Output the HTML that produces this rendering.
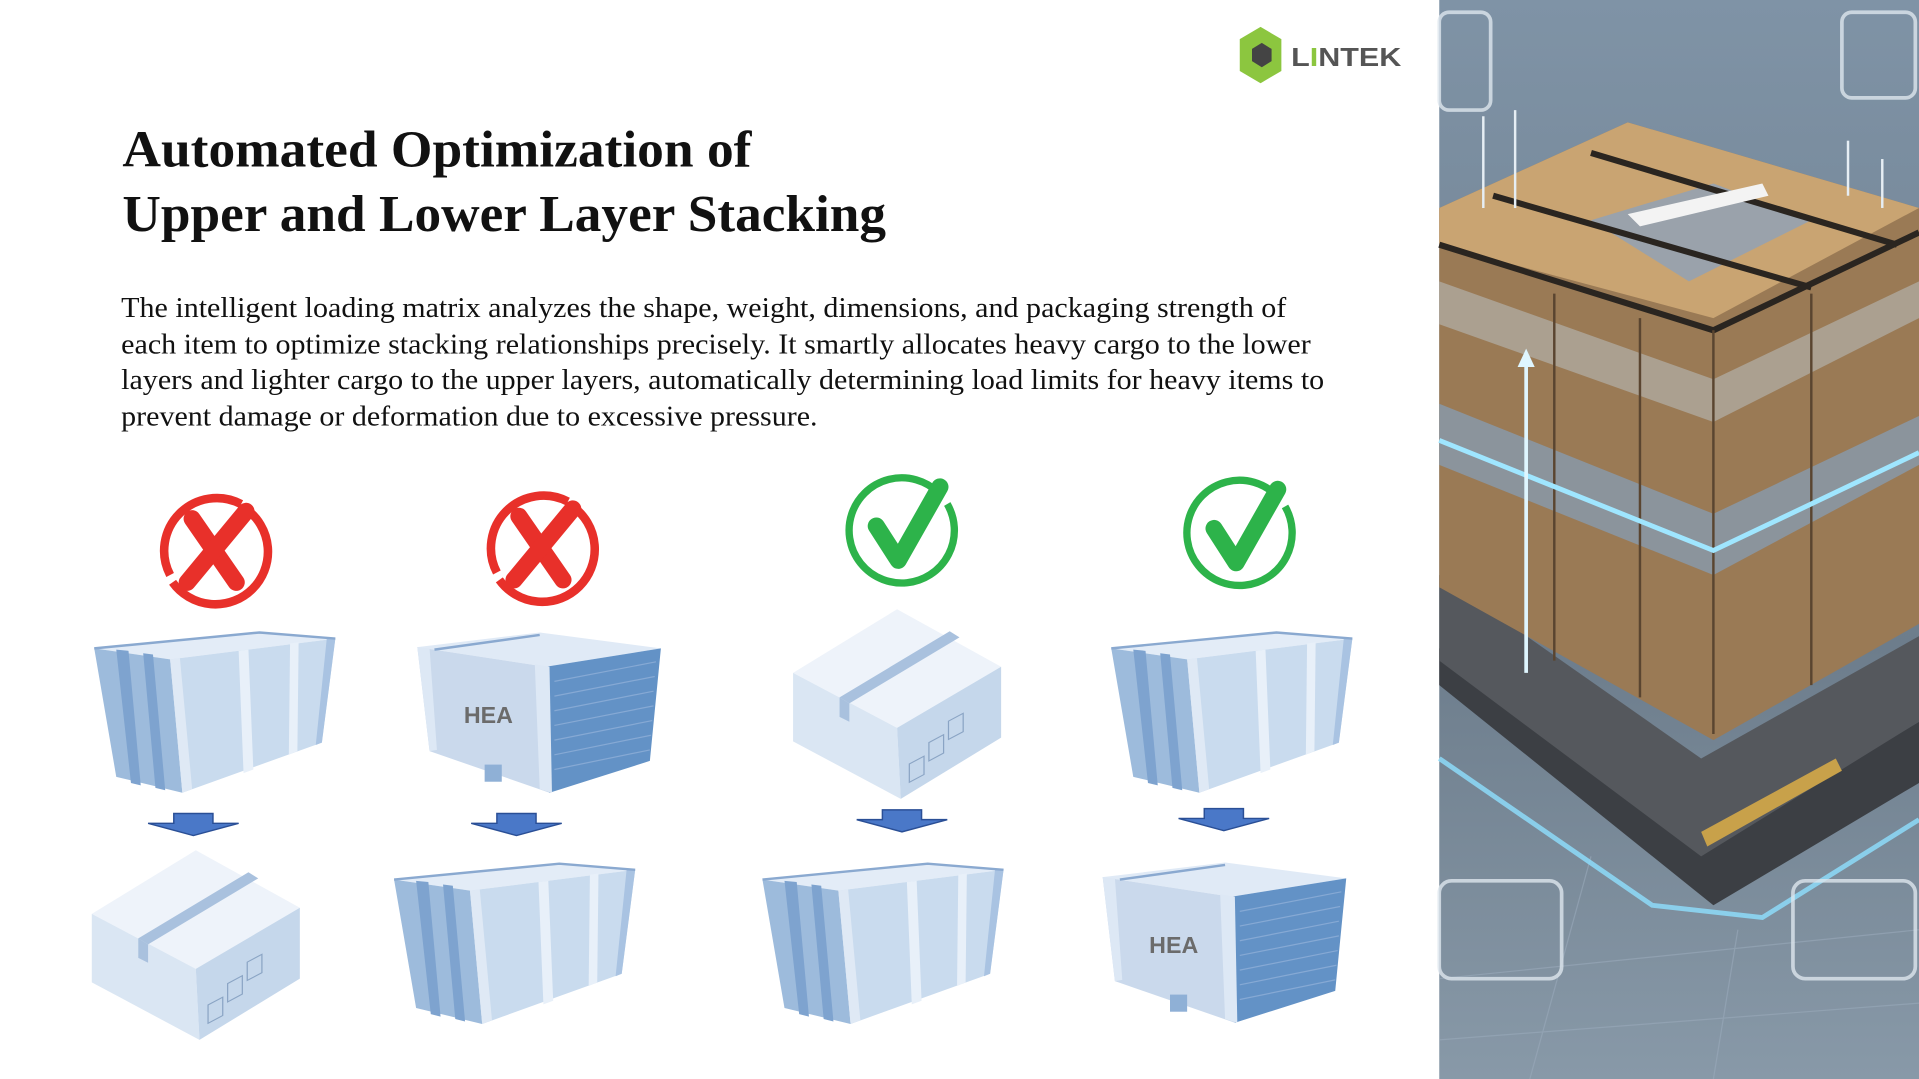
<!DOCTYPE html>
<html><head><meta charset="utf-8"><style>
html,body{margin:0;padding:0;background:#fff;}
svg{display:block}
</style></head><body>
<svg width="1919" height="1079" viewBox="0 0 1568 882" preserveAspectRatio="none" xmlns="http://www.w3.org/2000/svg">
<defs>
<g id="long">
  <polygon points="0,13 135,0 197,5 62,22" fill="#e3ecf7"/>
  <polygon points="62,22 197,5 186,90 72,131" fill="#c9dbee"/>
  <polygon points="0,13 62,22 72,131 18,118" fill="#9dbbdc"/>
  <polygon points="18,14 28,15 38,125 30,123" fill="#7ea3cf"/>
  <polygon points="40,17 48,18 58,129 50,127" fill="#7ea3cf"/>
  <polygon points="62,22 70,21 80,128 72,131" fill="#dfe9f5"/>
  <polygon points="118,15 126,14 130,112 122,115" fill="#e8f0f9"/>
  <polygon points="160,9 167,8 166,97 159,100" fill="#e8f0f9"/>
  <polygon points="190,5 197,5 186,90 181,92" fill="#a9c3e2"/>
  <polyline points="0,13 135,0 197,5" fill="none" stroke="#8aa9d0" stroke-width="2"/>
</g>
<g id="hea">
  <polygon points="0,12 100,0 199,13 105,28" fill="#e0eaf6"/>
  <polygon points="0,12 105,28 108,131 10,97" fill="#cad9ec"/>
  <polygon points="105,28 199,13 190,105 108,131" fill="#6392c6"/>
  <polygon points="96,26 108,28 110,131 100,128" fill="#dde8f5"/>
  <polygon points="0,12 10,13 16,96 10,97" fill="#dde8f5"/>
  <polyline points="14,14 100,2 " stroke="#8aa9d0" stroke-width="2" fill="none"/>
  <g stroke="#86a9d4" stroke-width="1">
    <line x1="112" y1="40" x2="195" y2="24"/><line x1="112" y1="52" x2="194" y2="36"/>
    <line x1="112" y1="64" x2="193" y2="48"/><line x1="112" y1="76" x2="193" y2="60"/>
    <line x1="112" y1="88" x2="192" y2="72"/><line x1="112" y1="100" x2="191" y2="84"/>
    <line x1="112" y1="112" x2="190" y2="96"/>
  </g>
  <rect x="55" y="108" width="14" height="14" fill="#8fb0d6"/>
  <text x="38" y="74" font-family="Liberation Sans, sans-serif" font-weight="bold" font-size="19" fill="#6b6b6b">HEA</text>
</g>
<g id="card">
  <polygon points="0,52 85,0 170,47 85,97" fill="#eef3fa"/>
  <polygon points="0,52 85,97 88,155 0,108" fill="#dae6f3"/>
  <polygon points="85,97 170,47 170,105 88,155" fill="#c5d7eb"/>
  <polygon points="38,72 128,18 136,23 46,77" fill="#a9c1de"/>
  <polygon points="38,72 46,77 46,92 38,88" fill="#a9c1de"/>
  <g fill="none" stroke="#8aa4c4" stroke-width="1">
    <rect x="95" y="125" width="12" height="15" transform="skewY(-28) translate(0,52)"/>
    <rect x="111" y="116" width="12" height="15" transform="skewY(-28) translate(0,52)"/>
    <rect x="127" y="107" width="12" height="15" transform="skewY(-28) translate(0,52)"/>
  </g>
</g>
<g id="arrow">
  <polygon points="-16,0 16,0 16,8 37,8 0,18 -37,8 -16,8" fill="#4a78c8" stroke="#2a4f96" stroke-width="1.2"/>
</g>
<g id="xmark">
  <path d="M 28 -32 A 43 43 0 1 1 -32 28" fill="none" stroke="#e8302a" stroke-width="7"/>
  <path d="M -34 22 A 43 43 0 0 1 24 -36" fill="none" stroke="#e8302a" stroke-width="7"/>
  <path d="M -16 -24 L 20 28" stroke="#e8302a" stroke-width="14" stroke-linecap="round"/>
  <path d="M 28 -30 L -20 28" stroke="#e8302a" stroke-width="14" stroke-linecap="round"/>
</g>
<g id="check">
  <path d="M 28 -34 A 43 43 0 1 0 36 -24" fill="none" stroke="#2db34a" stroke-width="6"/>
  <path d="M -22 -6 L -4 22 L 30 -38" fill="none" stroke="#2db34a" stroke-width="14" stroke-linecap="round" stroke-linejoin="round"/>
</g>
<linearGradient id="bg" x1="0" y1="0" x2="0" y2="1">
  <stop offset="0" stop-color="#7f93a6"/><stop offset="0.6" stop-color="#6d7d8c"/><stop offset="1" stop-color="#8899a8"/>
</linearGradient>
</defs>

<!-- Logo -->
<polygon points="1013,32 1030,22 1047,32 1047,58 1030,68 1013,58" fill="#8cc63f"/>
<polygon points="1023,40 1031,35 1039,40 1039,50 1031,55 1023,50" fill="#444"/>
<text x="1055" y="54" font-family="Liberation Sans, sans-serif" font-weight="bold" font-size="21" fill="#555" textLength="90" lengthAdjust="spacingAndGlyphs">L<tspan fill="#8cc63f">I</tspan>NTEK</text>

<!-- Title -->
<text font-family="Liberation Serif, serif" font-weight="bold" font-size="42" fill="#111">
<tspan x="100" y="136" textLength="514" lengthAdjust="spacingAndGlyphs">Automated Optimization of</tspan>
<tspan x="100" y="189" textLength="624" lengthAdjust="spacingAndGlyphs">Upper and Lower Layer Stacking</tspan>
</text>
<text font-family="Liberation Serif, serif" font-size="23.5" fill="#111">
<tspan x="99" y="259" textLength="952" lengthAdjust="spacingAndGlyphs">The intelligent loading matrix analyzes the shape, weight, dimensions, and packaging strength of</tspan>
<tspan x="99" y="289" textLength="972" lengthAdjust="spacingAndGlyphs">each item to optimize stacking relationships precisely. It smartly allocates heavy cargo to the lower</tspan>
<tspan x="99" y="318" textLength="983" lengthAdjust="spacingAndGlyphs">layers and lighter cargo to the upper layers, automatically determining load limits for heavy items to</tspan>
<tspan x="99" y="348" textLength="569" lengthAdjust="spacingAndGlyphs">prevent damage or deformation due to excessive pressure.</tspan>
</text>

<use href="#xmark" transform="translate(173,448)"/>
<use href="#xmark" transform="translate(440,446)"/>
<use href="#check" transform="translate(738,436)"/>
<use href="#check" transform="translate(1014,438)"/>

<use href="#long" transform="translate(77,517)"/>
<use href="#hea" transform="translate(341,517)"/>
<use href="#card" transform="translate(648,498)"/>
<use href="#long" transform="translate(908,517)"/>

<use href="#arrow" transform="translate(158,665)"/>
<use href="#arrow" transform="translate(422,665)"/>
<use href="#arrow" transform="translate(737,662)"/>
<use href="#arrow" transform="translate(1000,661)"/>

<use href="#card" transform="translate(75,695)"/>
<use href="#long" transform="translate(322,706)"/>
<use href="#long" transform="translate(623,706)"/>
<use href="#hea" transform="translate(901,705)"/>

<!-- Photo panel -->
<rect x="1176" y="0" width="392" height="882" fill="url(#bg)"/>
<g stroke="#9aaabb" stroke-width="1" opacity="0.6">
  <line x1="1176" y1="800" x2="1568" y2="760"/><line x1="1176" y1="850" x2="1568" y2="820"/>
  <line x1="1250" y1="882" x2="1300" y2="700"/><line x1="1400" y1="882" x2="1420" y2="760"/>
</g>
<polygon points="1176,560 1400,740 1568,640 1568,590 1400,690 1176,530" fill="#3c3f44"/>
<polygon points="1176,540 1390,700 1568,590 1568,520 1390,620 1176,470" fill="#55585d"/>
<polyline points="1176,620 1350,740 1440,750 1568,670" fill="none" stroke="#8fe0ff" stroke-width="4" opacity="0.8"/>
<polygon points="1390,680 1500,620 1505,630 1395,692" fill="#c8a14a"/>
<!-- cargo -->
<polygon points="1176,170 1330,100 1568,170 1568,510 1400,605 1176,480" fill="#9a7a55"/>
<polygon points="1176,170 1330,100 1568,170 1400,260 1176,200" fill="#c9a472"/>
<polygon points="1300,180 1400,150 1480,180 1380,230" fill="#9aa2ab"/>
<polygon points="1176,330 1400,420 1568,340 1568,380 1400,470 1176,380" fill="#8a97a4" opacity="0.9"/>
<polygon points="1176,230 1400,310 1568,230 1568,260 1400,345 1176,265" fill="#b8b9b7" opacity="0.6"/>
<g stroke="#2a2520" stroke-width="5">
  <line x1="1176" y1="200" x2="1400" y2="270"/><line x1="1220" y1="160" x2="1480" y2="235"/>
  <line x1="1300" y1="125" x2="1550" y2="200"/><line x1="1400" y1="270" x2="1568" y2="190"/>
</g>
<g stroke="#5a4530" stroke-width="2">
  <line x1="1270" y1="240" x2="1270" y2="540"/><line x1="1340" y1="260" x2="1340" y2="570"/>
  <line x1="1400" y1="270" x2="1400" y2="600"/><line x1="1480" y1="240" x2="1480" y2="560"/>
</g>
<polyline points="1176,360 1400,450 1568,370" fill="none" stroke="#9fe6ff" stroke-width="4"/>
<line x1="1247" y1="290" x2="1247" y2="550" stroke="#dff6ff" stroke-width="3"/>
<polygon points="1240,300 1247,285 1254,300" fill="#dff6ff"/>
<polygon points="1330,175 1440,150 1445,160 1340,185" fill="#f3f3f3"/>
<g fill="none" stroke="#dde6ee" stroke-width="3" opacity="0.8">
  <rect x="1505" y="10" width="60" height="70" rx="8"/>
  <rect x="1176" y="10" width="42" height="80" rx="8"/>
  <rect x="1176" y="720" width="100" height="80" rx="10"/>
  <rect x="1465" y="720" width="100" height="80" rx="10"/>
</g>
<g stroke="#e6eef4" stroke-width="2">
  <line x1="1212" y1="95" x2="1212" y2="170"/><line x1="1238" y1="90" x2="1238" y2="170"/>
  <line x1="1510" y1="115" x2="1510" y2="160"/><line x1="1538" y1="130" x2="1538" y2="170"/>
</g>
</svg>
</body></html>
